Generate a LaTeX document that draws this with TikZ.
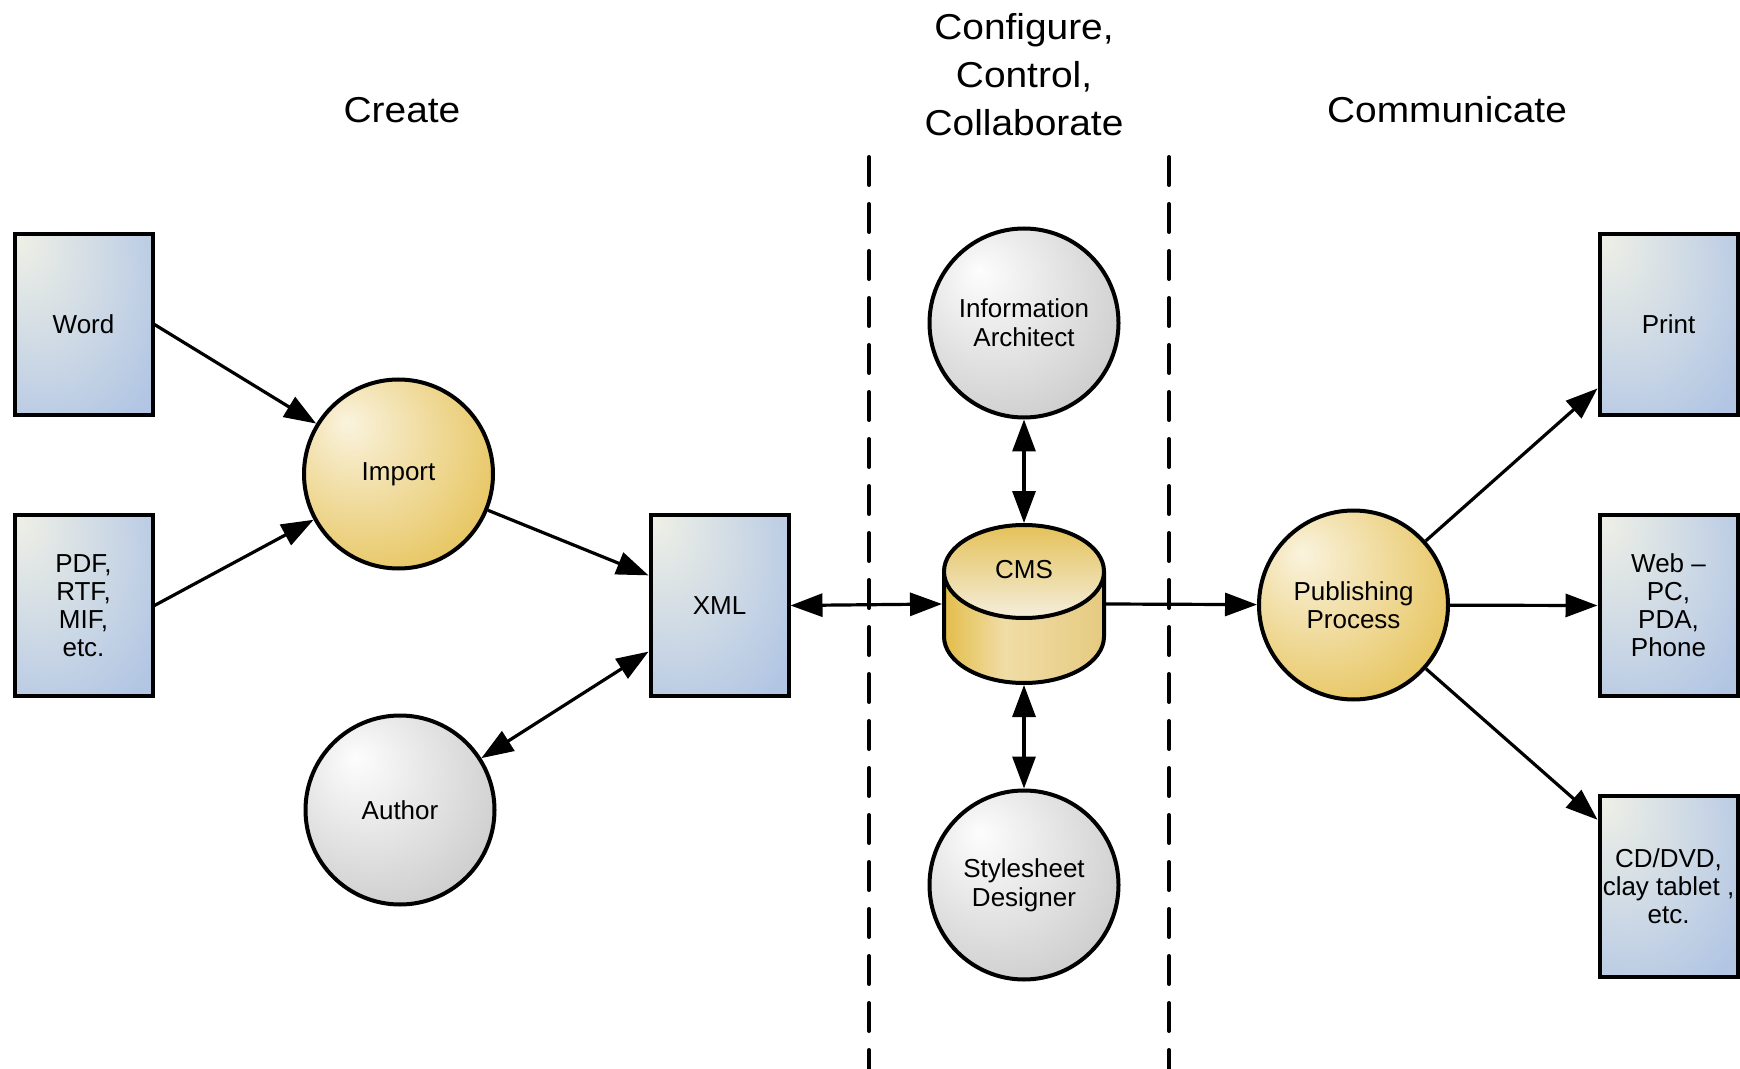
\documentclass[tikz,border=0pt]{standalone}
\usepackage{fontspec}
\setmainfont{Liberation Sans}
\newfontfamily\headfont[FakeStretch=1.08]{Liberation Sans}
\usetikzlibrary{arrows.meta}

% palette
\definecolor{boxlight}{RGB}{240,241,230}
\definecolor{boxblue}{RGB}{178,198,228}
\definecolor{goldlight}{RGB}{250,243,222}
\definecolor{gold}{RGB}{227,189,74}
\definecolor{greylight}{RGB}{253,253,253}
\definecolor{greydark}{RGB}{196,196,196}
\definecolor{cmslight}{RGB}{240,221,166}
\definecolor{cmsright}{RGB}{229,202,128}
\definecolor{cmstoplight}{RGB}{244,238,220}
\definecolor{cmstopdark}{RGB}{228,193,88}

% shadings (path bounding box maps to the central 50bp square)
\pgfdeclareradialshading{boxshade}{\pgfpoint{-25bp}{25bp}}{color(0bp)=(boxlight); color(45bp)=(boxblue); color(80bp)=(boxblue)}
\pgfdeclareradialshading{goldshade}{\pgfpoint{-14bp}{14bp}}{color(0bp)=(goldlight); color(42bp)=(gold); color(70bp)=(gold)}
\pgfdeclareradialshading{greyshade}{\pgfpoint{-12bp}{14bp}}{color(0bp)=(greylight); color(42bp)=(greydark); color(70bp)=(greydark)}
\pgfdeclarehorizontalshading{cmsbodyshade}{100bp}{color(0bp)=(gold); color(25bp)=(gold); color(44bp)=(cmslight); color(75bp)=(cmsright); color(100bp)=(cmsright)}
\pgfdeclareverticalshading{cmstopshade}{100bp}{color(0bp)=(cmstoplight); color(25bp)=(cmstoplight); color(75bp)=(cmstopdark); color(100bp)=(cmstopdark)}

\tikzset{
  doc/.style={draw, line width=2pt, shade, shading=boxshade, minimum width=69pt,
    minimum height=90.5pt, inner sep=0pt, align=center,
    font=\fontsize{13}{14}\selectfont},
  goldball/.style={circle, draw, line width=2pt, shade, shading=goldshade,
    minimum size=94.5pt, inner sep=0pt, align=center,
    font=\fontsize{13}{14}\selectfont},
  greyball/.style={circle, draw, line width=2pt, shade, shading=greyshade,
    minimum size=94.5pt, inner sep=0pt, align=center,
    font=\fontsize{13}{14}\selectfont},
  rolefont/.style={font=\fontsize{13}{14.5}\selectfont},
  heading/.style={align=center, font=\headfont\fontsize{18}{24}\selectfont},
  conn/.style={line width=1.6pt},
  divider/.style={line width=2pt, line cap=round, dash pattern=on 14pt off 9.5pt},
  >={Triangle[length=16pt,width=11.5pt]}
}

\begin{document}
\begin{tikzpicture}[x=0.5pt, y=-0.5pt]
  \useasboundingbox (0,0) rectangle (1740,1069);
  \fill[white] (0,0) rectangle (1740,1069);

  % column headings
  \node[heading, anchor=base] (hcreate) at (402,123) {Create};
  \node[heading] (hconfig) at (1024,75) {Configure,\\Control,\\Collaborate};
  \node[heading, anchor=base] (hcomm) at (1447,123) {Communicate};

  % column dividers
  \draw[divider] (869,157) -- (869,1075);
  \draw[divider] (1169,157) -- (1169,1075);

  % sources
  \node[doc] (word) at (83.5,324.5) {Word};
  \node[doc] (pdf) at (83.5,605.5) {PDF,\\RTF,\\MIF,\\etc.};
  \node[goldball] (import) at (398.5,474) {Import};
  \node[greyball] (author) at (400,810) {Author};
  \node[doc] (xml) at (719.5,605.5) {XML};

  % repository and roles
  \node[greyball, rolefont] (ia) at (1024,323) {Information\\Architect};
  \node[greyball, rolefont] (sd) at (1024,885) {Stylesheet\\Designer};

  % CMS cylinder
  \path[shade, shading=cmsbodyshade]
    (944,571.5) -- (944,636.5)
    arc[start angle=180, end angle=360, x radius=40pt, y radius=23.25pt]
    -- (1104,571.5)
    arc[start angle=0, end angle=180, x radius=40pt, y radius=23.25pt] -- cycle;
  \draw[line width=2pt, line join=round]
    (944,571.5) -- (944,636.5)
    arc[start angle=180, end angle=360, x radius=40pt, y radius=23.25pt]
    -- (1104,571.5);
  \path[draw, line width=2pt, shade, shading=cmstopshade]
    (1024,571.5) ellipse[x radius=40pt, y radius=23.25pt];
  \node[inner sep=0pt, outer sep=1pt, minimum width=80pt, minimum height=79pt] (cms) at (1024,604) {};
  \node[font=\fontsize{13}{14}\selectfont] (cmslabel) at (1024,570) {CMS};

  % outputs
  \node[goldball] (pub) at (1353.5,605) {Publishing\\Process};
  \node[doc] (print) at (1668.5,324.5) {Print};
  \node[doc] (web) at (1668.5,605.5) {Web --\\PC,\\PDA,\\Phone};
  \node[doc] (cd) at (1668.5,886) {CD/DVD,\\clay tablet ,\\etc.};

  % connectors
  \draw[conn, ->] (word.east) -- (import);
  \draw[conn, ->] (pdf.east) -- (import);
  \draw[conn, ->] (import) -- (xml.157);
  \draw[conn, <->] (author) -- (xml.213);
  \draw[conn, <->] (xml.east) -- (cms.west);
  \draw[conn, <->] (ia) -- (cms.north);
  \draw[conn, <->] (cms.south) -- (sd);
  \draw[conn, ->] (cms.east) -- (pub);
  \draw[conn, ->] (pub) -- (print.222);
  \draw[conn, ->] (pub) -- (web.west);
  \draw[conn, ->] (pub) -- (cd.137);
\end{tikzpicture}
\end{document}
